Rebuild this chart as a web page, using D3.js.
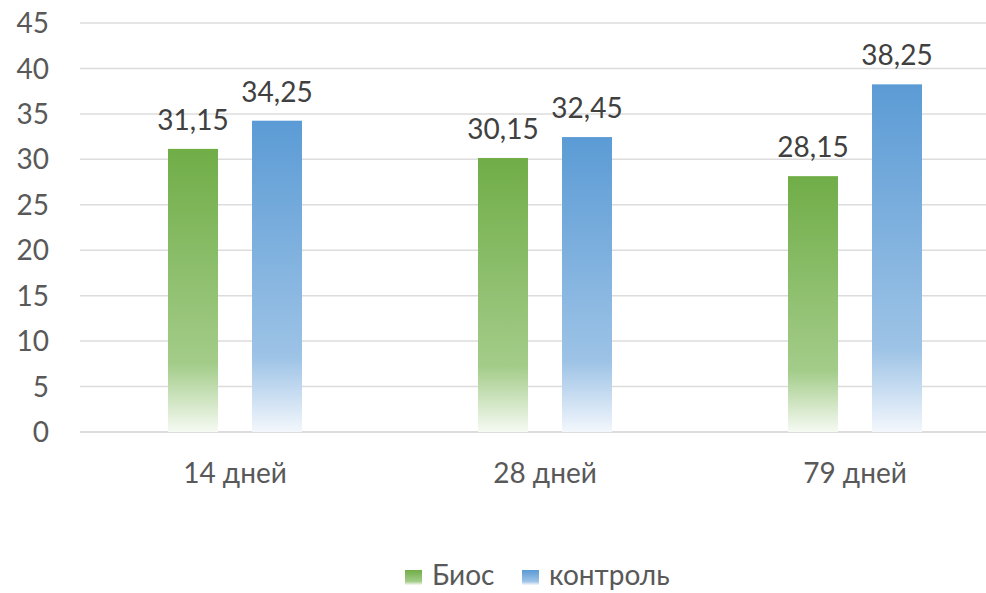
<!DOCTYPE html>
<html><head><meta charset="utf-8">
<script src="https://cdn.jsdelivr.net/npm/d3@7/dist/d3.min.js"></script>
<style>
html,body{margin:0;padding:0;background:#fff;}
svg{display:block;font-family:Lato,"Open Sans",sans-serif;}
</style></head>
<body>
<svg id="c" width="986" height="593"></svg>
<script>
const categories = ["14 дней", "28 дней", "79 дней"];
const seriesNames = ["Биос", "контроль"];
const biosValues = [31.15, 30.15, 28.15];
const controlValues = [34.25, 32.45, 38.25];
const yTicks = [0, 5, 10, 15, 20, 25, 30, 35, 40, 45];

(function(){
const seriesValues = [biosValues, controlValues];
const colors = [
  {top:"#70AD47", mid:"#A3CC89", bot:"#F6FAF3"},
  {top:"#5B9BD5", mid:"#9DC3E6", bot:"#F3F7FC"}
];
const fs = 28;

const svg = d3.select("#c");
const pLeft = 80, pRight = 1010, pTop = 23, pBottom = 432;

const x0 = d3.scaleBand().domain(categories).range([pLeft, pRight]);
const bw = x0.bandwidth();
const x1 = d3.scaleBand().domain(seriesNames).range([bw/2 - 67, bw/2 + 67]).paddingInner(0.405);
const y = d3.scaleLinear().domain([0, 45]).range([pBottom, pTop]);

const defs = svg.append("defs");
seriesNames.forEach((s, i) => {
  const g = defs.append("linearGradient").attr("id", "g" + i)
    .attr("x1", 0).attr("y1", 0).attr("x2", 0).attr("y2", 1);
  g.append("stop").attr("offset", "0").attr("stop-color", colors[i].top);
  g.append("stop").attr("offset", "0.76").attr("stop-color", colors[i].mid);
  g.append("stop").attr("offset", "1").attr("stop-color", colors[i].bot);
});

svg.append("g").selectAll("line").data(yTicks).join("line")
  .attr("x1", pLeft).attr("x2", 986)
  .attr("y1", d => y(d)).attr("y2", d => y(d))
  .attr("stroke", d => d === 0 ? "#d0d0d0" : "#dcdcdc").attr("stroke-width", 1.5);

svg.append("g").selectAll("text").data(yTicks).join("text")
  .attr("x", 49).attr("y", d => y(d)).attr("dy", "0.36em")
  .attr("text-anchor", "end").attr("font-size", fs).attr("fill", "#595959")
  .text(d => d);

const groups = svg.append("g").selectAll("g").data(categories).join("g")
  .attr("transform", c => `translate(${x0(c)},0)`);
seriesNames.forEach((s, i) => {
  groups.append("rect")
    .attr("x", x1(s)).attr("width", x1.bandwidth())
    .attr("y", (c, j) => y(seriesValues[i][j]))
    .attr("height", (c, j) => y(0) - y(seriesValues[i][j]))
    .attr("fill", `url(#g${i})`);
  groups.append("text")
    .attr("x", x1(s) + x1.bandwidth()/2)
    .attr("y", (c, j) => y(seriesValues[i][j]) - 19)
    .attr("text-anchor", "middle").attr("font-size", fs).attr("fill", "#404040")
    .text((c, j) => String(seriesValues[i][j]).replace(".", ","));
});

svg.append("g").selectAll("text").data(categories).join("text")
  .attr("x", c => x0(c) + bw/2).attr("y", 483)
  .attr("text-anchor", "middle").attr("font-size", fs).attr("fill", "#595959")
  .text(c => c);

const legendX = [405, 522];
seriesNames.forEach((s, i) => {
  svg.append("rect").attr("x", legendX[i]).attr("y", 570).attr("width", 17).attr("height", 15)
    .attr("fill", `url(#g${i})`);
  svg.append("text").attr("x", legendX[i] + 27).attr("y", 585)
    .attr("font-size", fs).attr("fill", "#595959").text(s);
});
})();
</script>
</body></html>
